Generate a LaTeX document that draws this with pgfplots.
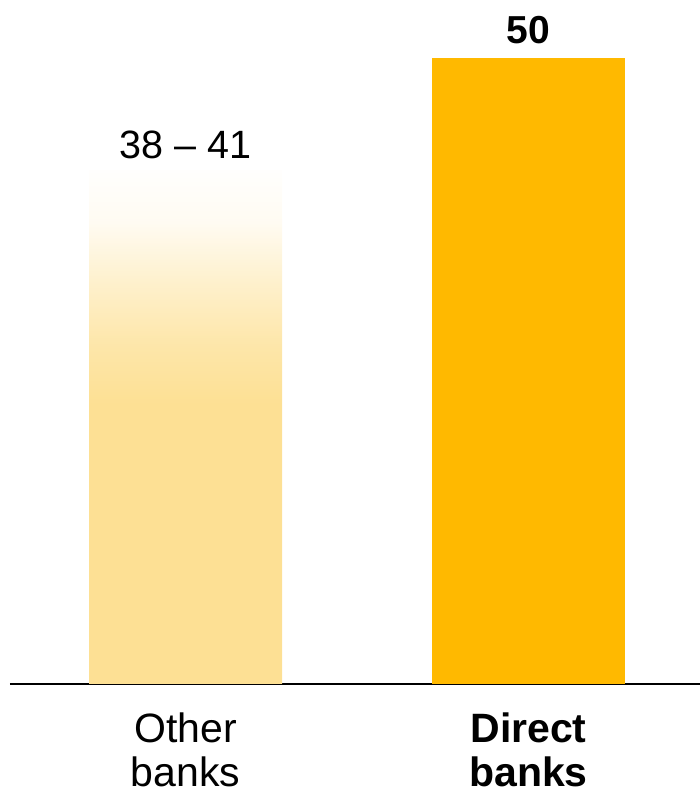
\documentclass[border=0pt]{standalone}
\usepackage{pgfplots}
\pgfplotsset{compat=1.18}
\usepackage{fontspec}
\setmainfont{Liberation Sans}

\definecolor{lightgold}{HTML}{FDE094}
\definecolor{gold}{HTML}{FFB900}

% solid up to ~22, fading to white at the top of the range bar (41)
\pgfdeclareverticalshading{rangefade}{100bp}{%
  color(0bp)=(lightgold); color(25bp)=(lightgold); color(52.3bp)=(lightgold);
  color(58bp)=(lightgold!80!white); color(64bp)=(lightgold!48!white);
  color(70bp)=(lightgold!12!white); color(75bp)=(white!98!lightgold); color(100bp)=(white)}

\begin{document}
\begin{tikzpicture}
\useasboundingbox (0,0) rectangle (700pt,798pt);
\begin{axis}[
  at={(10pt,114pt)}, anchor=south west,
  scale only axis, width=690pt, height=684pt,
  xmin=-0.5117, xmax=1.5, ymin=0, ymax=54.63,
  axis x line=bottom, axis y line=none,
  x axis line style={-, black, line width=1.4pt},
  xtick={0,1}, xticklabels={Other\\banks, \textbf{Direct}\\\textbf{banks}},
  major tick length=0pt,
  xticklabel style={align=center, font=\fontsize{41}{44}\selectfont, yshift=-25pt},
  ytick=\empty,
  ybar, bar width=193pt, bar shift=0pt,
  clip=false,
]
\addplot[draw=none, shading=rangefade] coordinates {(0,41)};
\addplot[draw=none, fill=gold] coordinates {(1,50)};
\node[anchor=base, font=\fontsize{39.5}{42}\selectfont] at ([yshift=12pt]axis cs:0,41) {38 -- 41};
\node[anchor=base, font=\fontsize{39}{42}\selectfont\bfseries] at ([yshift=14pt]axis cs:1,50) {50};
\end{axis}
\end{tikzpicture}
\end{document}
